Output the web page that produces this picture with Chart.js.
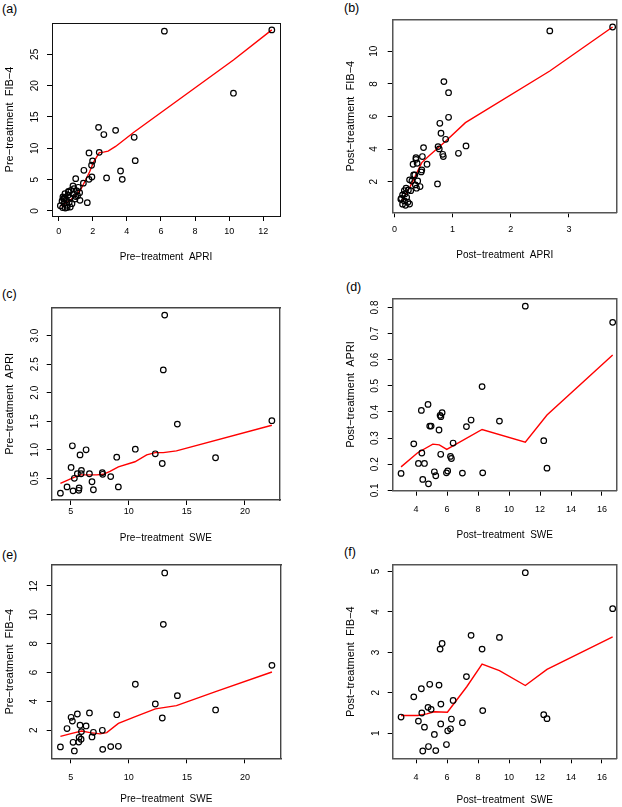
<!DOCTYPE html>
<html><head><meta charset="utf-8">
<script src="https://cdn.jsdelivr.net/npm/chart.js@4.4.0/dist/chart.umd.min.js"></script>
<style>
html,body{margin:0;padding:0;background:#fff;}
body{width:622px;height:807px;position:relative;overflow:hidden;font-family:"Liberation Sans",Arial,sans-serif;}
canvas{position:absolute;}
.lab{position:absolute;font-size:12.5px;color:#000;line-height:1;white-space:nowrap;}
</style></head><body>
<div class="lab" style="left:2px;top:3px">(a)</div>
<div class="lab" style="left:344px;top:2px">(b)</div>
<div class="lab" style="left:2px;top:288px">(c)</div>
<div class="lab" style="left:346px;top:281px">(d)</div>
<div class="lab" style="left:2px;top:549px">(e)</div>
<div class="lab" style="left:344px;top:546px">(f)</div>
<script>
// ---------- data ----------
// (a) pre-treatment APRI vs pre-treatment FIB-4
const aAPRI = [12.5, 6.2, 10.25, 2.34, 3.34, 2.65, 4.43, 1.78, 2.38, 1.99, 1.93, 4.49, 1.48, 3.63, 1.0, 1.95, 1.78, 2.81, 3.73, 1.45, 1.68, 0.84, 1.15, 0.90, 0.57, 0.72, 1.07, 1.23, 0.37, 0.55, 0.88, 1.11, 0.25, 0.68, 0.45, 0.96, 1.25, 0.20, 0.62, 0.33, 0.10, 0.49, 0.39, 0.23, 0.68, 0.78, 0.29, 0.50, 0.58, 0.35, 0.30, 1.01];
const aFIB4 = [28.9, 28.7, 18.8, 13.35, 12.87, 12.2, 11.76, 9.26, 9.36, 7.98, 7.3, 8.03, 6.49, 6.38, 5.16, 5.42, 5.05, 5.27, 5.05, 4.44, 1.33, 3.99, 3.78, 3.56, 3.03, 3.30, 3.19, 2.93, 2.77, 2.50, 2.66, 2.45, 2.23, 2.13, 1.81, 1.91, 1.70, 1.60, 1.38, 1.17, 0.85, 0.90, 0.48, 0.54, 0.63, 1.17, 2.0, 0.57, 3.13, 2.12, 1.86, 2.3];
const aSmoothX = [0.10, 0.68, 1.27, 1.52, 1.81, 2.05, 2.38, 2.63, 2.90, 3.34, 4.43, 10.25, 12.5];
const aSmoothY = [0.79, 1.70, 3.30, 4.63, 6.22, 7.81, 9.31, 9.40, 9.55, 10.3, 12.6, 24.1, 28.9];

// (b) post-treatment APRI vs post-treatment FIB-4
const bAPRI = [3.75, 2.67, 0.85, 0.93, 0.93, 0.78, 0.80, 0.88, 0.75, 0.77, 1.23, 1.10, 0.83, 0.84, 0.50, 0.48, 0.37, 0.37, 0.32, 0.39, 0.56, 0.47, 0.46, 0.33, 0.35, 0.26, 0.30, 0.40, 0.36, 0.44, 0.74, 0.20, 0.17, 0.24, 0.28, 0.38, 0.14, 0.18, 0.21, 0.11, 0.17, 0.14, 0.26, 0.23, 0.12, 0.19];
const bFIB4 = [11.49, 11.25, 8.14, 7.46, 5.95, 5.58, 4.97, 4.60, 4.15, 4.01, 4.19, 3.74, 3.68, 3.54, 4.09, 3.54, 3.47, 3.37, 3.07, 3.13, 3.07, 2.72, 2.60, 2.41, 2.41, 2.11, 2.04, 2.04, 1.80, 1.70, 1.86, 1.60, 1.45, 1.49, 1.45, 1.60, 1.19, 1.25, 1.04, 0.92, 0.82, 0.62, 0.63, 0.74, 0.98, 0.55];
const bSmoothX = [0.11, 0.27, 0.41, 0.47, 0.60, 0.87, 1.22, 2.67, 3.75];
const bSmoothY = [0.72, 1.70, 2.72, 3.17, 3.60, 4.45, 5.62, 8.79, 11.49];

// (c), (e) pre-treatment SWE cohort
const preSWE  = [4.11, 4.68, 5.03, 5.14, 5.20, 5.31, 5.57, 5.69, 5.72, 5.80, 5.89, 5.92, 6.32, 6.61, 6.83, 6.95, 7.72, 7.75, 8.44, 8.96, 9.10, 10.56, 12.28, 12.88, 12.97, 13.09, 14.18, 17.47, 22.32];
const preAPRI = [0.24, 0.35, 0.69, 1.07, 0.28, 0.50, 0.58, 0.29, 0.33, 0.91, 0.58, 0.64, 1.00, 0.58, 0.44, 0.30, 0.60, 0.57, 0.53, 0.87, 0.35, 1.01, 0.93, 0.76, 2.40, 3.36, 1.45, 0.86, 1.51];
const preFIB4 = [0.85, 2.12, 2.90, 2.64, 1.17, 0.57, 3.13, 1.19, 1.51, 2.35, 1.38, 1.91, 2.30, 3.20, 1.54, 1.86, 2.00, 0.68, 0.87, 3.08, 0.89, 5.19, 3.82, 2.85, 9.34, 12.9, 4.40, 3.41, 6.50];
const cSmoothX = [4.11, 5.08, 5.8, 6.32, 7.24, 7.8, 8.38, 9.1, 10.53, 11.54, 12.28, 12.97, 14.1, 22.32];
const cSmoothY = [0.41, 0.50, 0.56, 0.56, 0.56, 0.57, 0.62, 0.70, 0.79, 0.91, 0.95, 0.95, 0.98, 1.43];
const eSmoothX = [4.11, 5.1, 5.94, 6.66, 7.52, 8.1, 9.1, 10.56, 12.28, 14.1, 17.47, 22.32];
const eSmoothY = [1.58, 1.79, 1.95, 1.84, 1.75, 1.84, 2.48, 2.95, 3.48, 3.71, 4.68, 6.04];

// (d), (f) post-treatment SWE cohort
const postSWE  = [3.03, 3.85, 4.15, 4.34, 4.37, 4.43, 4.54, 4.77, 4.80, 4.88, 4.97, 5.18, 5.27, 5.48, 5.55, 5.59, 5.60, 5.68, 5.96, 6.04, 6.22, 6.28, 6.39, 6.99, 7.25, 7.55, 8.26, 8.30, 9.38, 11.05, 12.24, 12.45, 16.69];
const postAPRI = [0.165, 0.278, 0.203, 0.406, 0.243, 0.142, 0.203, 0.429, 0.125, 0.346, 0.346, 0.171, 0.156, 0.331, 0.387, 0.238, 0.382, 0.397, 0.167, 0.174, 0.230, 0.222, 0.281, 0.166, 0.344, 0.369, 0.497, 0.167, 0.365, 0.805, 0.290, 0.185, 0.743];
const postFIB4 = [1.40, 1.90, 1.30, 2.10, 1.50, 0.56, 1.15, 1.64, 0.67, 2.21, 1.59, 0.97, 0.57, 2.19, 3.08, 1.23, 1.72, 3.22, 0.72, 1.06, 1.11, 1.35, 1.81, 1.26, 2.40, 3.42, 3.08, 1.56, 3.37, 4.97, 1.46, 1.36, 4.08];
const dSmoothX = [3.03, 4.1, 5.08, 5.5, 5.98, 6.47, 8.26, 11.05, 12.45, 16.69];
const dSmoothY = [0.19, 0.244, 0.277, 0.274, 0.257, 0.273, 0.333, 0.284, 0.388, 0.618];
const fSmoothX = [3.03, 4.1, 4.69, 5.18, 6.02, 7.27, 8.26, 9.38, 11.05, 12.45, 16.69];
const fSmoothY = [1.44, 1.44, 1.48, 1.53, 1.52, 2.15, 2.71, 2.55, 2.18, 2.58, 3.38];

// tick values and labels
const aXTicks = [0, 2, 4, 6, 8, 10, 12];
const aYTicks = [0, 5, 10, 15, 20, 25];
const bXTicks = [0, 1, 2, 3];
const bYTicks = [2, 4, 6, 8, 10];
const cXTicks = [5, 10, 15, 20];
const cYTicks = [0.5, 1.0, 1.5, 2.0, 2.5, 3.0];
const cYLabels = ['0.5', '1.0', '1.5', '2.0', '2.5', '3.0'];
const dXTicks = [4, 6, 8, 10, 12, 14, 16];
const dYTicks = [0.1, 0.2, 0.3, 0.4, 0.5, 0.6, 0.7, 0.8];
const dYLabels = ['0.1', '0.2', '0.3', '0.4', '0.5', '0.6', '0.7', '0.8'];
const eXTicks = [5, 10, 15, 20];
const eYTicks = [2, 4, 6, 8, 10, 12];
const fXTicks = [4, 6, 8, 10, 12, 14, 16];
const fYTicks = [1, 2, 3, 4, 5];

// axis titles
const M = '\u2212';
const aXTitle = 'Pre' + M + 'treatment  APRI', aYTitle = 'Pre' + M + 'treatment  FIB' + M + '4';
const bXTitle = 'Post' + M + 'treatment  APRI', bYTitle = 'Post' + M + 'treatment  FIB' + M + '4';
const cXTitle = 'Pre' + M + 'treatment  SWE', cYTitle = 'Pre' + M + 'treatment  APRI';
const dXTitle = 'Post' + M + 'treatment  SWE', dYTitle = 'Post' + M + 'treatment  APRI';
const eXTitle = 'Pre' + M + 'treatment  SWE', eYTitle = 'Pre' + M + 'treatment  FIB' + M + '4';
const fXTitle = 'Post' + M + 'treatment  SWE', fYTitle = 'Post' + M + 'treatment  FIB' + M + '4';

// ---------- layout (pixel geometry of each panel) ----------
const FAM = "'Liberation Sans', Arial, sans-serif";
Chart.defaults.font.family = FAM;
const XT_FONT = 9, YT_FONT = 10, XTITLE_FONT = 10, YTITLE_FONT = 11;

const panels = [
  {x: aAPRI, y: aFIB4, sx: aSmoothX, sy: aSmoothY, xt: aXTicks, yt: aYTicks, yl: null, xTitle: aXTitle, yTitle: aYTitle,
   cx: 0, cy: 0, cw: 311, box: [52, 23, 280, 216], xr: [-0.39, 12.98], yr: [-0.8, 30.0], xLab: 16, xTitleY: 257, yLab: 17, yTitleX: 10, bc: '#111', bw: 1},
  {x: bAPRI, y: bFIB4, sx: bSmoothX, sy: bSmoothY, xt: bXTicks, yt: bYTicks, yl: null, xTitle: bXTitle, yTitle: bYTitle,
   cx: 311, cy: 0, cw: 311, box: [392.7, 20, 616.7, 212.3], xr: [-0.03, 3.82], yr: [0.12, 11.92], xLab: 17.7, xTitleY: 255, yLab: 18.4, yTitleX: 351, bc: '#555', bw: 1.5},
  {x: preSWE, y: preAPRI, sx: cSmoothX, sy: cSmoothY, xt: cXTicks, yt: cYTicks, yl: cYLabels, xTitle: cXTitle, yTitle: cYTitle,
   cx: 0, cy: 270, cw: 311, box: [51.7, 307.7, 280, 500], xr: [3.36, 23.02], yr: [0.12, 3.49], xLab: 12, xTitleY: 538, yLab: 16.7, yTitleX: 10, bc: '#444', bw: 1.4},
  {x: postSWE, y: postAPRI, sx: dSmoothX, sy: dSmoothY, xt: dXTicks, yt: dYTicks, yl: dYLabels, xTitle: dXTitle, yTitle: dYTitle,
   cx: 311, cy: 270, cw: 311, box: [392.7, 298.3, 616.7, 490.7], xr: [2.49, 16.95], yr: [0.0987, 0.835], xLab: 19.3, xTitleY: 535, yLab: 17.4, yTitleX: 351, bc: '#555', bw: 1.5},
  {x: preSWE, y: preFIB4, sx: eSmoothX, sy: eSmoothY, xt: eXTicks, yt: eYTicks, yl: null, xTitle: eXTitle, yTitle: eYTitle,
   cx: 0, cy: 540, cw: 311, box: [51.7, 565, 281, 758.3], xr: [3.36, 23.1], yr: [0.06, 13.45], xLab: 19, xTitleY: 799, yLab: 17.4, yTitleX: 10, bc: '#444', bw: 1.4},
  {x: postSWE, y: postFIB4, sx: fSmoothX, sy: fSmoothY, xt: fXTicks, yt: fYTicks, yl: null, xTitle: fXTitle, yTitle: fYTitle,
   cx: 311, cy: 540, cw: 311, box: [392.7, 565, 616.7, 758.3], xr: [2.49, 16.95], yr: [0.38, 5.16], xLab: 19.4, xTitleY: 800, yLab: 16.7, yTitleX: 351, bc: '#555', bw: 1.5}
];

const mctx = document.createElement('canvas').getContext('2d');
function textW(t, size) { mctx.font = size + 'px ' + FAM; return mctx.measureText(t).width; }

panels.forEach(p => {
  const [L, T, R, B] = p.box;
  const bottom = Math.min(p.xTitleY + 8, 807);
  const cv = document.createElement('canvas');
  const W = p.cw, H = bottom - p.cy;
  cv.width = W; cv.height = H;
  cv.style.left = p.cx + 'px'; cv.style.top = p.cy + 'px';
  cv.style.width = W + 'px'; cv.style.height = H + 'px';
  document.body.appendChild(cv);

  const yLabels = p.yl || p.yt.map(v => String(v));
  const xLabels = p.xt.map(v => String(v));
  const widest = Math.max(...yLabels.map(t => textW(t, YT_FONT)));
  const xtLH = XT_FONT * 1.2, xtitLH = XTITLE_FONT * 1.2, ytitLH = YTITLE_FONT * 1.2;
  const frame = {display: true, color: p.bc, width: p.bw};

  new Chart(cv, {
    type: 'scatter',
    data: {
      datasets: [
        {data: p.x.map((v, i) => ({x: v, y: p.y[i]})), pointRadius: 2.8, pointHoverRadius: 2.8,
         pointBorderWidth: 1.2, borderColor: '#000', backgroundColor: 'rgba(0,0,0,0)', showLine: false},
        {data: p.sx.map((v, i) => ({x: v, y: p.sy[i]})), showLine: true, pointRadius: 0, borderColor: '#ff0000',
         borderWidth: 1.4, tension: 0, fill: false}
      ]
    },
    options: {
      responsive: false, animation: false, devicePixelRatio: 1,
      layout: {padding: {left: 0, right: p.cx + W - R, top: T - p.cy, bottom: 0}},
      plugins: {legend: {display: false}, tooltip: {enabled: false}},
      scales: {
        x: {
          type: 'linear', position: 'bottom', min: p.xr[0], max: p.xr[1],
          afterFit: s => { s.height = bottom - B; },
          afterBuildTicks: s => { s.ticks = p.xt.map(v => ({value: v})); },
          ticks: {autoSkip: false, maxRotation: 0, minRotation: 0, color: '#000', font: {size: XT_FONT},
                  padding: p.xLab - 5 - xtLH / 2, callback: v => xLabels[p.xt.indexOf(v)]},
          grid: {drawOnChartArea: false, drawTicks: true, tickLength: 5, color: '#000', tickColor: '#000', tickWidth: 1},
          border: frame,
          title: {display: true, text: p.xTitle, color: '#000', font: {size: XTITLE_FONT},
                  padding: {top: 0, bottom: bottom - p.xTitleY - xtitLH / 2}}
        },
        y: {
          type: 'linear', position: 'left', min: p.yr[0], max: p.yr[1],
          afterFit: s => { s.width = L - p.cx; },
          afterBuildTicks: s => { s.ticks = p.yt.map(v => ({value: v})); },
          ticks: {autoSkip: false, minRotation: 90, maxRotation: 90, crossAlign: 'center', color: '#000',
                  font: {size: YT_FONT}, padding: p.yLab - 5 - widest / 2,
                  callback: v => yLabels[p.yt.indexOf(v)]},
          grid: {drawOnChartArea: false, drawTicks: true, tickLength: 5, color: '#000', tickColor: '#000', tickWidth: 1},
          border: frame,
          title: {display: true, text: p.yTitle, color: '#000', font: {size: YTITLE_FONT},
                  padding: {top: (p.yTitleX - p.cx) - ytitLH / 2, bottom: 0}}
        },
        xTop: {
          type: 'linear', axis: 'x', position: 'top', min: p.xr[0], max: p.xr[1], display: true,
          afterFit: s => { s.height = 0; },
          ticks: {display: false}, grid: {display: false}, border: frame
        },
        yRight: {
          type: 'linear', axis: 'y', position: 'right', min: p.yr[0], max: p.yr[1], display: true,
          afterFit: s => { s.width = 0; },
          ticks: {display: false}, grid: {display: false}, border: frame
        }
      }
    }
  });
});
</script>
</body></html>
